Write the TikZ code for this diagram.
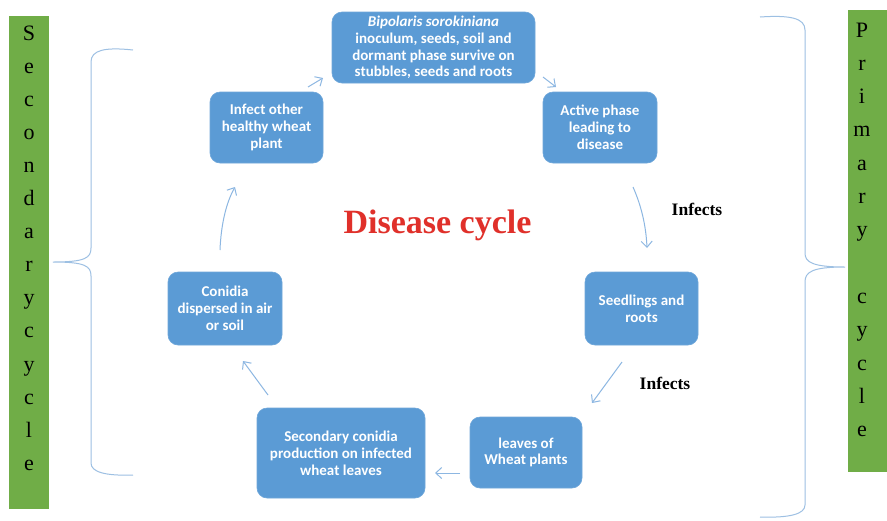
\documentclass[tikz,border=0pt]{standalone}
\usepackage{fontspec}
\setmainfont{Liberation Serif}
\newfontfamily\boxfont{Carlito}
\usetikzlibrary{arrows.meta}
\definecolor{boxfill}{HTML}{5B9BD5}
\definecolor{boxline}{HTML}{6FA7DA}
\definecolor{arrowc}{HTML}{8DB7E2}
\definecolor{bracec}{HTML}{9DC0E3}
\definecolor{barg}{HTML}{70AD47}
\definecolor{titler}{HTML}{E0302A}
\tikzset{
  stagebox/.style={draw=boxline, line width=0.6pt, fill=boxfill, rounded corners=10pt,
    text=white, align=center, inner sep=0pt,
    font=\boxfont\fontsize{15}{16.8}\selectfont\bfseries},
  flowarrow/.style={draw=arrowc, line width=1pt, -{Straight Barb[length=6pt,width=11pt]}},
  bracepath/.style={draw=bracec, line width=1pt},
  sidebar/.style={fill=barg, draw=none},
  sideletter/.style={anchor=base, font=\fontsize{22}{22}\selectfont, text=black, inner sep=0pt},
  infectlabel/.style={font=\fontsize{17.5}{17.5}\selectfont\bfseries, inner sep=0pt}
}
\begin{document}
\begin{tikzpicture}[x=1pt,y=-1pt]
\useasboundingbox (0,0) rectangle (887,520);
\fill[white] (0,0) rectangle (887,520);

% side bars
\path[sidebar] (9,16) rectangle (49,509);
\path[sidebar] (848,10) rectangle (887,472);
\foreach \ch [count=\i from 0] in {S,e,c,o,n,d,a,r,y,c,y,c,l,e}
  \node[sideletter] (L\i) at (29,{40+33.1*\i}) {\ch};
\foreach \ch/\i in {P/0,r/1,i/2,m/3,a/4,r/5,y/6,c/8,y/9,c/10,l/11,e/12}
  \node[sideletter] (R\i) at (862,{37+33.3*\i}) {\ch};

% braces
\draw[bracepath] (133,50) .. controls (105,47) and (91,50) .. (91,62) -- (91,248)
  .. controls (91,258) and (85,262) .. (53,262)
  .. controls (85,262) and (91,266) .. (91,276) -- (91,463)
  .. controls (91,472) and (105,476) .. (133,475);
\draw[bracepath] (760,17) .. controls (790,15) and (805,18) .. (805,30) -- (805,253)
  .. controls (805,262) and (812,267) .. (845,267)
  .. controls (812,267) and (805,272) .. (805,282) -- (805,505)
  .. controls (805,514) and (790,518) .. (760,517);

% boxes
\node[stagebox, minimum width=203pt, minimum height=71pt] (inoc) at (433.5,47.5)
  {\textit{Bipolaris sorokiniana}\\inoculum, seeds, soil and\\dormant phase survive on\\stubbles, seeds and roots};
\node[stagebox, minimum width=114pt, minimum height=71pt] (active) at (600,127.5)
  {Active phase\\leading to\\disease};
\node[stagebox, minimum width=113pt, minimum height=73pt] (seed) at (641.5,308.5)
  {Seedlings and\\roots};
\node[stagebox, minimum width=112pt, minimum height=71pt] (leaves) at (526,452.5)
  {leaves of\\Wheat plants};
\node[stagebox, minimum width=168pt, minimum height=90pt] (second) at (341,453)
  {Secondary conidia\\production on infected\\wheat leaves};
\node[stagebox, minimum width=114pt, minimum height=73pt] (conid) at (225,308.5)
  {Conidia\\dispersed in air\\or soil};
\node[stagebox, minimum width=113pt, minimum height=71pt] (infect) at (266.5,127.5)
  {Infect other\\healthy wheat\\plant};

% title
\node[font=\fontsize{34}{34}\selectfont\bfseries, text=titler, inner sep=0pt] (title) at (437.5,225) {Disease cycle};

% labels
\node[infectlabel] (inf1) at (697,209) {Infects};
\node[infectlabel] (inf2) at (665,383) {Infects};

% arrow end points
\coordinate (a12s) at (543,77);  \coordinate (a12e) at (556,87);
\coordinate (a23s) at (633,187); \coordinate (a23e) at (647,248);
\coordinate (a34s) at (622,362); \coordinate (a34e) at (592,403);
\coordinate (a45s) at (460,473); \coordinate (a45e) at (435,473);
\coordinate (a56s) at (268,395); \coordinate (a56e) at (243,361);
\coordinate (a67s) at (220,250); \coordinate (a67e) at (235,187);
\coordinate (a71s) at (308,87);  \coordinate (a71e) at (323,78);

\draw[flowarrow] (a12s) -- (a12e);
\draw[flowarrow] (a23s) .. controls (641,205) and (646,225) .. (a23e);
\draw[flowarrow] (a34s) -- (a34e);
\draw[flowarrow] (a45s) -- (a45e);
\draw[flowarrow] (a56s) -- (a56e);
\draw[flowarrow] (a67s) .. controls (221,225) and (226,203) .. (a67e);
\draw[flowarrow] (a71s) -- (a71e);
\end{tikzpicture}
\end{document}
